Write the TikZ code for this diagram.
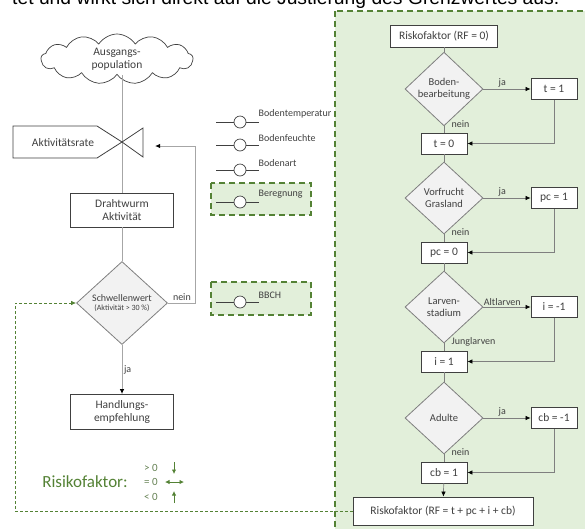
\documentclass[tikz,border=0pt]{standalone}
\usepackage{fontspec}
\setmainfont{Carlito}
\newfontfamily\notefont{Liberation Sans}
\usetikzlibrary{arrows.meta,positioning,calc,shapes.geometric,shapes.symbols}
\definecolor{cG}{HTML}{548235}
\definecolor{cL}{HTML}{E2EFDA}
\definecolor{cT}{HTML}{404040}
\definecolor{cE}{HTML}{7F7F7F}
\definecolor{cF}{HTML}{F2F2F2}
\definecolor{cS}{HTML}{A6A6A6}
\newcommand\fsBox{\fontsize{11.5}{13.5}\selectfont}
\newcommand\fsDec{\fontsize{10.5}{12.5}\selectfont}
\newcommand\fsLab{\fontsize{10}{12}\selectfont}
\tikzset{
  box/.style={draw=cT,fill=white,text=cT,line width=.8pt,align=center,
              inner sep=2pt,font=\fsBox},
  sbox/.style={box,minimum width=46pt,minimum height=21pt},
  dec/.style={diamond,draw=cE,fill=cF,text=cT,line width=.8pt,align=center,
              inner sep=0pt,minimum width=78pt,minimum height=72pt,font=\fsDec},
  flow/.style={draw=cE,line width=.7pt},
  lflow/.style={draw=cS,line width=1pt},
  arr/.style={flow,-{Latex[length=5pt,width=4.5pt,color=black]}},
  lab/.style={text=cT,font=\fsLab,inner sep=1.5pt},
  zone/.style={draw=cG,fill=cL,line width=1.6pt,dash pattern=on 6pt off 4pt},
  fb/.style={draw=cG,line width=.7pt,dash pattern=on 3pt off 2pt,
             -{Latex[length=5pt,width=4.5pt]}},
  lg/.style={draw=cG,line width=.8pt},
  lgt/.style={text=cG!60!gray,font=\fontsize{11}{12}\selectfont,inner sep=1pt},
  sens/.style={circle,draw=cT,fill=white,line width=.7pt,inner sep=0pt,
               minimum size=12pt},
}

\begin{document}
\begin{tikzpicture}[x=1pt,y=-1pt]
  \useasboundingbox (0,0) rectangle (585,528);
  % cut line of the running text above
  \node[font=\notefont\fontsize{19.3}{22}\selectfont,anchor=base west,
        inner sep=0pt] (note) at (12,4)
        {tet und wirkt sich direkt auf die Justierung des Grenzwertes aus.};

  % risk factor zone
  \draw[zone] (335,11) rectangle (600,545);
  \node[box,minimum width=107pt,minimum height=22pt] (rf0) at (444,36)
        {Riskofaktor (RF = 0)};
  \foreach \k/\y/\q/\yes/\no/\lj/\ln in {
      t/89/{Boden-\\bearbeitung}/{t = 1}/{t = 0}/ja/nein,
      pc/198/{Vorfrucht\\Grasland}/{pc = 1}/{pc = 0}/ja/nein,
      i/307/{Larven-\\stadium}/{i = -1}/{i = 1}/Altlarven/Junglarven,
      cb/418/{Adulte}/{cb = -1}/{cb = 1}/ja/nein}{
    \node[dec] (d\k) at (444,\y) {\q};
    \node[sbox] (\k1) at (554,\y) {\yes};
    \node[sbox] (\k0) at (444,\y+54.5) {\no};
    \draw[arr] (d\k) -- node[lab,above,pos=.4]{\lj} (\k1);
    \draw[arr] (\k1.south) |- (\k0.east);
    \draw[flow] (d\k) -- (\k0);
    \node[lab,anchor=west] at ([xshift=6pt,yshift=2pt]d\k.south) {\ln};
  }
  \node[box,minimum width=180pt,minimum height=28pt] (rf) at (443,511)
        {Riskofaktor (RF = t + pc + i + cb)};
  \foreach \a/\b in {rf0/dt,t0/dpc,pc0/di,i0/dcb}{\draw[flow] (\a) -- (\b);}
  \draw[arr] (cb0) -- (rf);

  % soil and field inputs
  \draw[zone] (211,183) rectangle (311,215);
  \draw[zone] (211,282) rectangle (311,315);
  \foreach \n/\y/\t in {a/122/Bodentemperatur,b/145/Bodenfeuchte,
      c/170/Bodenart,d/202/Beregnung,e/302/BBCH}{
    \coordinate (s\n) at (216,\y);
    \node[sens] (o\n) at (240,\y){};
    \coordinate (e\n) at (259,\y);
    \draw[draw=cT,line width=.7pt] (s\n) -- (o\n) -- (e\n);
    \node[lab,anchor=south west] at ([xshift=-2pt,yshift=2pt]e\n) {\t};
  }

  % population flow
  \node[cloud,cloud puffs=13,cloud puff arc=115,aspect=3.1,draw=cT,
        line width=.7pt,text=cT,align=center,font=\fsBox,
        minimum width=152pt,minimum height=50pt,inner sep=0pt]
        (pop) at (117,59) {Ausgangs-\\population};
  \coordinate (v) at (122,142);
  \node[box,minimum width=103pt,minimum height=34pt] (akt) at (122,210)
        {Drahtwurm\\Aktivität};
  \node[dec,minimum width=91pt,minimum height=83pt,font=\fontsize{10}{10}\selectfont]
        (sw) at (122,303)
        {Schwellenwert\\[-1pt]{\fontsize{8}{9}\selectfont(Aktivität > 30 \%)}};
  \node[box,minimum width=103pt,minimum height=35pt] (hand) at (122,412)
        {Handlungs-\\empfehlung};
  \draw[lflow] (pop.south -| akt.north) -- (akt.north);
  \draw[draw=cT,line width=.8pt,fill=white]
        (13,126) -- (97,126) -- (v) -- (97,158) -- (13,158) -- cycle;
  \draw[draw=cT,line width=.8pt] (v) -- (143,128) -- (143,157) -- cycle;
  \node[text=cT,font=\fsBox] (rate) at (63,143) {Aktivitätsrate};
  \draw[lflow] (akt) -- (sw);
  \draw[lflow,-{Latex[length=5pt,width=4.5pt,color=black]}] (sw) --
        node[lab,right]{ja} (hand);
  \coordinate (vin) at (155,146);
  \draw[lflow,-{Latex[length=5pt,width=4.5pt,color=black]}] (sw.east) --
        node[lab,above]{nein} ++(28,0) |- (vin);

  % feedback of the risk factor
  \coordinate (lc) at (15,0);
  \draw[fb] (rf.west) -- (rf.west -| lc) |- (sw.west);

  % legend
  \node[text=cG,font=\fontsize{17}{20}\selectfont] (leg) at (85,482)
        {Risikofaktor:};
  \node[lgt] (gt) at (151,468) {> 0};
  \node[lgt] (eq) at (151,482) {= 0};
  \node[lgt] (lt) at (151,497) {< 0};
  \draw[lg,-{Latex[length=4.5pt,width=4.5pt]}] (174,462) -- (174,474);
  \draw[lg,{Latex[length=4.5pt,width=4.5pt]}-{Latex[length=4.5pt,width=4.5pt]}]
        (165,482) -- (184,482);
  \draw[lg,-{Latex[length=4.5pt,width=4.5pt]}] (174,503) -- (174,491);
\end{tikzpicture}
\end{document}
